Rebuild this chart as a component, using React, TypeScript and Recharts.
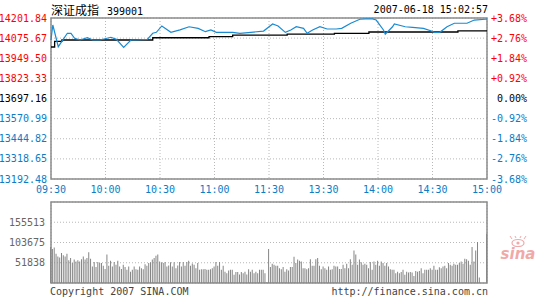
import React from "react";
import {
  LineChart,
  Line,
  BarChart,
  Bar,
  XAxis,
  YAxis,
  CartesianGrid,
  ReferenceArea,
} from "recharts";

const MONO = '"DejaVu Sans Mono", monospace';

// time axis: minutes since 09:30 (11:30 and 13:00 share one slot)
const timeTicks = [0, 30, 60, 90, 120, 150, 180, 210, 240];
const timeLabels = ["09:30", "10:00", "10:30", "11:00", "11:30", "13:30", "14:00", "14:30", "15:00"];

const priceTicks = [13192.48, 13318.65, 13444.82, 13570.99, 13697.16, 13823.33, 13949.5, 14075.67, 14201.84];
const prevClose = 13697.16;
const pctTicks = [-3.68, -2.76, -1.84, -0.92, 0, 0.92, 1.84, 2.76, 3.68];

const priceMinutes = [
  0, 1, 4, 9, 11, 13, 16, 20, 23, 27, 33, 36, 40, 44, 47, 53, 56, 58, 61, 66, 71, 76, 81, 85, 88, 91, 100, 104,
  110, 117, 122, 125, 129, 132, 135, 139, 141, 144, 148, 152, 157, 160, 165, 170, 173, 177, 179, 183, 184, 188,
  189, 195, 199, 205, 209, 211, 214, 218, 222, 229, 233, 239, 240,
];
const prices = [
  14064, 14158, 14022, 14106, 14106, 14075, 14064, 14078, 14064, 14064, 14081, 14068, 14018, 14064, 14064, 14068,
  14106, 14112, 14152, 14112, 14127, 14147, 14137, 14116, 14127, 14112, 14112, 14106, 14112, 14120, 14164, 14152,
  14112, 14127, 14147, 14137, 14106, 14127, 14147, 14133, 14133, 14137, 14169, 14194, 14196, 14196, 14189, 14127,
  14100, 14147, 14164, 14147, 14143, 14137, 14122, 14112, 14112, 14147, 14169, 14169, 14189, 14194, 14195,
];

const avgMinutes = [0, 2, 6, 56, 87, 100, 130, 156, 175, 224, 240];
const avgPrices = [14020, 14055, 14064, 14078, 14085, 14095, 14101, 14106, 14114, 14121, 14121];

// per-minute volume, thousands of lots
const volumes = [
  92, 87, 91, 75, 68, 65, 77, 71, 68, 75, 58, 64, 51, 60, 55, 58, 55, 61, 68, 60, 64, 79, 62, 42, 54, 41, 54, 51, 51,
  44, 36, 73, 44, 57, 42, 54, 47, 57, 42, 36, 47, 41, 34, 42, 29, 34, 42, 35, 34, 42, 38, 35, 48, 44, 51, 53, 60, 64,
  70, 73, 55, 53, 51, 54, 42, 45, 53, 42, 53, 38, 45, 54, 42, 54, 44, 54, 57, 44, 50, 47,
  38, 51, 34, 35, 35, 36, 34, 34, 35, 38, 42, 54, 44, 54, 34, 44, 29, 25, 32, 34, 34, 21, 28, 28, 22, 28, 25, 29, 22,
  35, 29, 34, 25, 29, 25, 34, 34, 34, 25, 2, 87, 41, 49, 47, 44, 44, 38, 35, 41, 29, 35, 32, 41, 41, 67, 51, 60, 57,
  55, 38, 38, 35, 38, 61, 44, 44, 61, 64, 44, 35, 42, 38, 34, 42, 34, 35, 44, 42, 42, 36,
  36, 47, 38, 49, 38, 61, 47, 83, 73, 47, 60, 53, 47, 49, 47, 38, 54, 34, 55, 47, 57, 44, 55, 51, 44, 51, 42, 35, 34,
  34, 25, 29, 25, 28, 34, 21, 29, 27, 28, 27, 18, 31, 29, 31, 38, 25, 34, 34, 34, 38, 34, 44, 34, 34, 40, 38, 42, 44,
  38, 51, 47, 44, 49, 47, 47, 51, 55, 49, 62, 61, 57, 47, 92, 55, 83, 105, 14, 0, 0, 0, 126,
];
const volTicks = [51.838, 103.675, 155.513];
const volMax = 207.35;

const priceData = priceMinutes.map((m, i) => ({ m, p: prices[i] }));
const avgData = avgMinutes.map((m, i) => ({ m, a: avgPrices[i] }));
const volData = volumes.map((v, i) => ({ m: i, v }));

const RED = "#ff0000";
const BLUE = "#0a7dc6";
const tone = (diff: number) => (diff > 0.001 ? RED : diff < -0.001 ? BLUE : "#000");

const LeftTick = ({ x, y, payload }: any) => (
  <text x={x} y={y} dy={3.5} textAnchor="end" fill={tone(payload.value - prevClose)} fontSize={10} fontFamily={MONO}>
    {payload.value.toFixed(2)}
  </text>
);

const RightTick = ({ x, y, payload }: any) => {
  const v = payload.value;
  const label = (v > 0 ? "+" : "") + v.toFixed(2) + "%";
  return (
    <text x={x + 38} y={y} dy={3.5} textAnchor="end" fill={tone(v)} fontSize={10} fontFamily={MONO}>
      {label}
    </text>
  );
};

const TimeTick = ({ x, y, payload }: any) => (
  <text x={x} y={y} dy={10} textAnchor="middle" fill={BLUE} fontSize={10} fontFamily={MONO}>
    {timeLabels[timeTicks.indexOf(payload.value)]}
  </text>
);

const VolTick = ({ x, y, payload }: any) => (
  <text x={x} y={y} dy={3.5} textAnchor="end" fill="#666" fontSize={10} fontFamily={MONO}>
    {Math.round(payload.value * 1000)}
  </text>
);

const App = () => {
  return (
    <div
      style={{
        position: "absolute",
        left: 0,
        top: 0,
        width: 545,
        height: 300,
        background: "#fff",
        fontFamily: MONO,
        overflow: "hidden",
      }}
    >
      <div style={{ position: "absolute", left: 51, top: 3, fontSize: 12, lineHeight: "13px", color: "#000" }}>
        <span style={{ fontFamily: '"Noto Sans CJK SC", sans-serif' }}>深证成指</span>
        <span style={{ fontSize: 10, marginLeft: 8 }}>399001</span>
      </div>
      <div style={{ position: "absolute", right: 57, top: 4, fontSize: 10, lineHeight: "12px", color: "#000" }}>
        2007-06-18 15:02:57
      </div>

      <div style={{ position: "absolute", left: 0, top: 0 }}>
        <LineChart width={545} height={200} margin={{ top: 18, right: 0, bottom: 0, left: 0 }}>
          <CartesianGrid yAxisId="price" stroke="#b8b8b8" strokeDasharray="1 2" />
          <XAxis
            dataKey="m"
            type="number"
            domain={[0, 240]}
            ticks={timeTicks}
            allowDuplicatedCategory={false}
            height={21}
            tickSize={0}
            tickMargin={4}
            axisLine={false}
            tick={<TimeTick />}
            interval={0}
          />
          <YAxis
            yAxisId="price"
            width={51}
            domain={[priceTicks[0], priceTicks[priceTicks.length - 1]]}
            ticks={priceTicks}
            allowDataOverflow
            tickSize={0}
            tickMargin={4}
            axisLine={false}
            tick={<LeftTick />}
            interval={0}
          />
          <YAxis
            yAxisId="pct"
            orientation="right"
            width={58}
            domain={[pctTicks[0], pctTicks[pctTicks.length - 1]]}
            ticks={pctTicks}
            allowDataOverflow
            tickSize={0}
            tickMargin={2}
            axisLine={false}
            tick={<RightTick />}
            interval={0}
          />
          <ReferenceArea
            yAxisId="price"
            x1={0}
            x2={240}
            y1={priceTicks[0]}
            y2={priceTicks[priceTicks.length - 1]}
            fill="none"
            stroke="#8c8c8c"
            strokeWidth={1.5}
          />
          <Line
            yAxisId="price"
            data={avgData}
            dataKey="a"
            type="stepAfter"
            stroke="#000"
            strokeWidth={1.3}
            dot={false}
            isAnimationActive={false}
          />
          <Line
            yAxisId="price"
            data={priceData}
            dataKey="p"
            type="linear"
            stroke="#1a8bd2"
            strokeWidth={1.2}
            dot={false}
            isAnimationActive={false}
          />
        </LineChart>
      </div>

      <div style={{ position: "absolute", left: 0, top: 190 }}>
        <BarChart width={545} height={110} data={volData} margin={{ top: 12, right: 58, bottom: 17, left: 0 }}>
          <CartesianGrid stroke="#b8b8b8" strokeDasharray="1 2" />
          <XAxis
            dataKey="m"
            type="number"
            domain={[0, 240]}
            ticks={timeTicks}
            height={0}
            tick={false}
            tickLine={false}
            axisLine={false}
          />
          <YAxis
            width={51}
            domain={[0, volMax]}
            ticks={volTicks}
            allowDataOverflow
            tickSize={0}
            tickMargin={6}
            axisLine={false}
            tick={<VolTick />}
            interval={0}
          />
          <Bar dataKey="v" fill="#858585" barSize={1} isAnimationActive={false} />
          <ReferenceArea x1={0} x2={240} y1={0} y2={volMax} fill="none" stroke="#8c8c8c" strokeWidth={1.5} />
        </BarChart>
      </div>

      <div style={{ position: "absolute", left: 50, top: 286, fontSize: 10, lineHeight: "12px", color: "#444" }}>
        Copyright 2007 SINA.COM
      </div>
      <div style={{ position: "absolute", right: 57, top: 286, fontSize: 10, lineHeight: "12px", color: "#444" }}>
        http://finance.sina.com.cn
      </div>

      <div style={{ position: "absolute", left: 500, top: 236, width: 36, textAlign: "center", opacity: 0.45 }}>
        <svg width={20} height={11} style={{ display: "block", margin: "0 auto" }}>
          <ellipse cx={10} cy={7} rx={6} ry={3.5} fill="none" stroke="#e04040" strokeWidth={1.2} />
          <circle cx={10} cy={7} r={1.6} fill="#e04040" />
          <path d="M4 3 L2 0 M8 2 L7 0 M12 2 L13 0 M16 3 L18 0" stroke="#e04040" strokeWidth={1} />
        </svg>
        <div
          style={{
            fontFamily: '"DejaVu Sans", sans-serif',
            fontStyle: "italic",
            fontWeight: "bold",
            fontSize: 15,
            lineHeight: "14px",
            color: "#e04040",
          }}
        >
          sina
        </div>
      </div>
    </div>
  );
};

export default App;
